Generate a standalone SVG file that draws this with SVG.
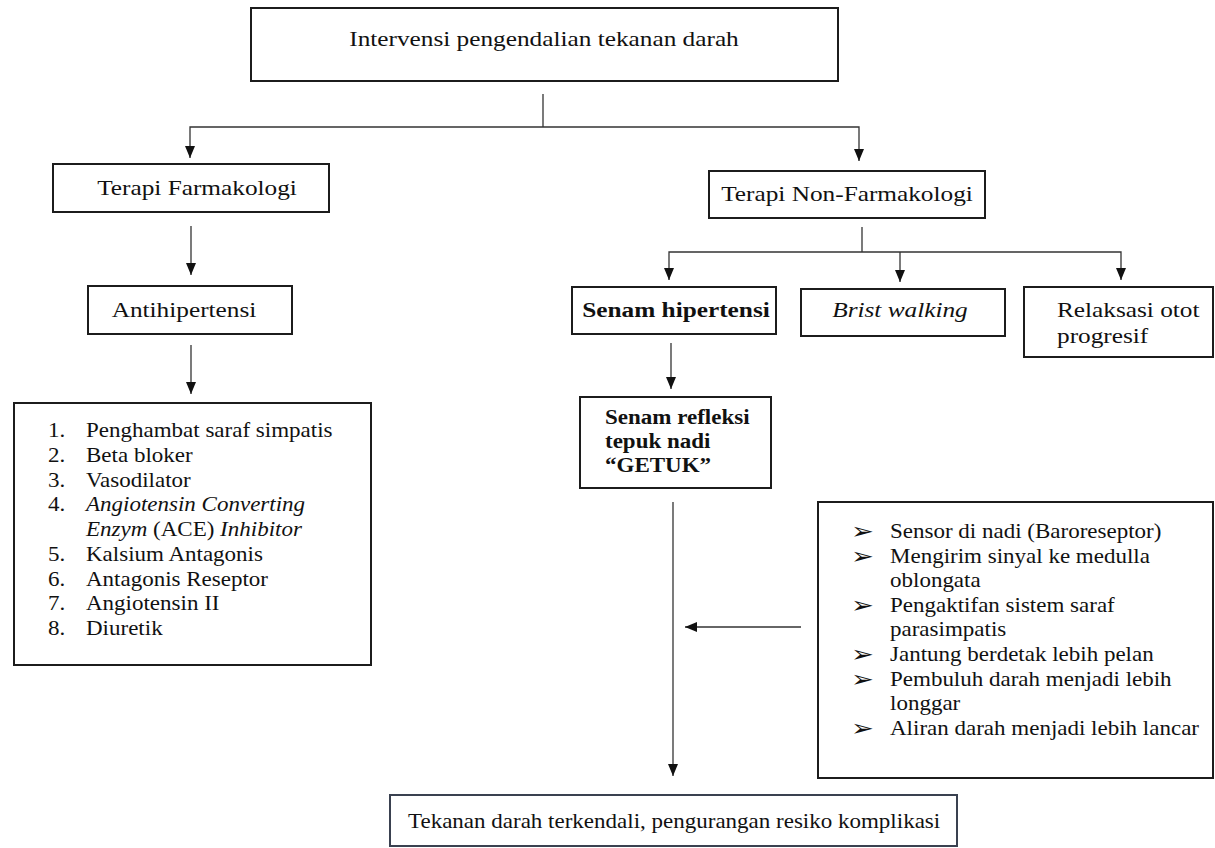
<svg xmlns="http://www.w3.org/2000/svg" width="1215" height="848" viewBox="0 0 1215 848">
<style>
.box{fill:#fff;stroke:#1c1c1c;stroke-width:2}
.t{font-family:"Liberation Serif","Times New Roman",serif;fill:#111}
.h{font-size:22px}
.s{font-size:20px}
.b{font-weight:bold}
.i{font-style:italic}
.c{text-anchor:middle}
.ln{fill:none;stroke:#333;stroke-width:1.3}
.ar{marker-end:url(#ah)}
.bul{font-family:"DejaVu Sans",sans-serif;font-size:21px;fill:#111}
</style>
<defs>
<marker id="ah" markerUnits="userSpaceOnUse" markerWidth="12" markerHeight="12" viewBox="0 0 12 12" refX="12" refY="6" orient="auto">
<path d="M0,1 L12,6 L0,11 Z" fill="#111"/>
</marker>
</defs>
<rect width="1215" height="848" fill="#fff"/>
<g id="connectors">
<line class="ln" x1="543" y1="94" x2="543" y2="127"/>
<polyline class="ln ar" points="543,127 190,127 190,158"/>
<polyline class="ln ar" points="543,127 859,127 859,161"/>
<line class="ln ar" x1="191" y1="226" x2="191" y2="275"/>
<line class="ln ar" x1="191" y1="345" x2="191" y2="394"/>
<line class="ln" x1="862" y1="227" x2="862" y2="252"/>
<polyline class="ln ar" points="862,252 669,252 669,280"/>
<polyline class="ln ar" points="862,252 1121,252 1121,280"/>
<line class="ln ar" x1="900" y1="252" x2="900" y2="282"/>
<line class="ln ar" x1="671" y1="343" x2="671" y2="389"/>
<line class="ln ar" x1="673" y1="502" x2="673" y2="776"/>
<line class="ln ar" x1="801" y1="627" x2="685" y2="627"/>
</g>
<g id="n-intervensi">
<rect class="box" x="251" y="8" width="587" height="73"/>
<text class="t h c" transform="matrix(1.15 0 0 1 544 46)">Intervensi pengendalian tekanan darah</text>
</g>
<g id="n-farmakologi">
<rect class="box" x="53" y="164" width="276" height="48"/>
<text class="t h c" transform="matrix(1.15 0 0 1 197 195)">Terapi Farmakologi</text>
</g>
<g id="n-antihipertensi">
<rect class="box" x="88" y="286" width="204" height="48"/>
<text class="t h c" transform="matrix(1.15 0 0 1 184 317)">Antihipertensi</text>
</g>
<g id="n-obat">
<rect class="box" x="14" y="403" width="357" height="262"/>
<g class="t s">
<text transform="matrix(1.15 0 0 1 48 437)">1.</text>
<text transform="matrix(1.15 0 0 1 86 437)">Penghambat saraf simpatis</text>
<text transform="matrix(1.15 0 0 1 48 461.75)">2.</text>
<text transform="matrix(1.15 0 0 1 86 461.75)">Beta bloker</text>
<text transform="matrix(1.15 0 0 1 48 486.5)">3.</text>
<text transform="matrix(1.15 0 0 1 86 486.5)">Vasodilator</text>
<text transform="matrix(1.15 0 0 1 48 511.25)">4.</text>
<text class="i" transform="matrix(1.15 0 0 1 86 511.25)">Angiotensin Converting</text>
<text transform="matrix(1.15 0 0 1 86 536)"><tspan class="i">Enzym</tspan> (ACE) <tspan class="i">Inhibitor</tspan></text>
<text transform="matrix(1.15 0 0 1 48 560.75)">5.</text>
<text transform="matrix(1.15 0 0 1 86 560.75)">Kalsium Antagonis</text>
<text transform="matrix(1.15 0 0 1 48 585.5)">6.</text>
<text transform="matrix(1.15 0 0 1 86 585.5)">Antagonis Reseptor</text>
<text transform="matrix(1.15 0 0 1 48 610.25)">7.</text>
<text transform="matrix(1.15 0 0 1 86 610.25)">Angiotensin II</text>
<text transform="matrix(1.15 0 0 1 48 635)">8.</text>
<text transform="matrix(1.15 0 0 1 86 635)">Diuretik</text>
</g>
</g>
<g id="n-nonfarmakologi">
<rect class="box" x="709" y="171" width="276" height="47"/>
<text class="t h c" transform="matrix(1.15 0 0 1 847 201)">Terapi Non-Farmakologi</text>
</g>
<g id="n-senam">
<rect class="box" x="572" y="287" width="204" height="47"/>
<text class="t h c b" transform="matrix(1.15 0 0 1 676 317)">Senam hipertensi</text>
</g>
<g id="n-brist">
<rect class="box" x="801" y="289" width="204" height="47"/>
<text class="t h c i" transform="matrix(1.15 0 0 1 900 317)">Brist walking</text>
</g>
<g id="n-relaksasi">
<rect class="box" x="1024" y="287" width="189" height="70"/>
<text class="t h" transform="matrix(1.15 0 0 1 1057 317)">Relaksasi otot</text>
<text class="t h" transform="matrix(1.15 0 0 1 1057 343)">progresif</text>
</g>
<g id="n-getuk">
<rect class="box" x="580" y="397" width="191" height="91"/>
<text class="t s b" transform="matrix(1.15 0 0 1 605 424)">Senam refleksi</text>
<text class="t s b" transform="matrix(1.15 0 0 1 605 448)">tepuk nadi</text>
<text class="t s b" transform="matrix(1.15 0 0 1 605 472)">“GETUK”</text>
</g>
<g id="n-mekanisme">
<rect class="box" x="818" y="502" width="395" height="276"/>
<text class="bul" transform="matrix(1.3 0 0 1.1 851 539)">➢</text>
<text class="bul" transform="matrix(1.3 0 0 1.1 851 563.6)">➢</text>
<text class="bul" transform="matrix(1.3 0 0 1.1 851 612.8)">➢</text>
<text class="bul" transform="matrix(1.3 0 0 1.1 851 662)">➢</text>
<text class="bul" transform="matrix(1.3 0 0 1.1 851 686.6)">➢</text>
<text class="bul" transform="matrix(1.3 0 0 1.1 851 735.8)">➢</text>
<g class="t s">
<text transform="matrix(1.15 0 0 1 890 538)">Sensor di nadi (Baroreseptor)</text>
<text transform="matrix(1.15 0 0 1 890 562.6)">Mengirim sinyal ke medulla</text>
<text transform="matrix(1.15 0 0 1 890 587.2)">oblongata</text>
<text transform="matrix(1.15 0 0 1 890 611.8)">Pengaktifan sistem saraf</text>
<text transform="matrix(1.15 0 0 1 890 636.4)">parasimpatis</text>
<text transform="matrix(1.15 0 0 1 890 661)">Jantung berdetak lebih pelan</text>
<text transform="matrix(1.15 0 0 1 890 685.6)">Pembuluh darah menjadi lebih</text>
<text transform="matrix(1.15 0 0 1 890 710.2)">longgar</text>
<text transform="matrix(1.15 0 0 1 890 734.8)">Aliran darah menjadi lebih lancar</text>
</g>
</g>
<g id="n-hasil">
<rect class="box" x="390" y="795" width="567" height="51" style="stroke:#3a4150"/>
<text class="t s" transform="matrix(1.15 0 0 1 408 828)">Tekanan darah terkendali, pengurangan resiko komplikasi</text>
</g>
</svg>
